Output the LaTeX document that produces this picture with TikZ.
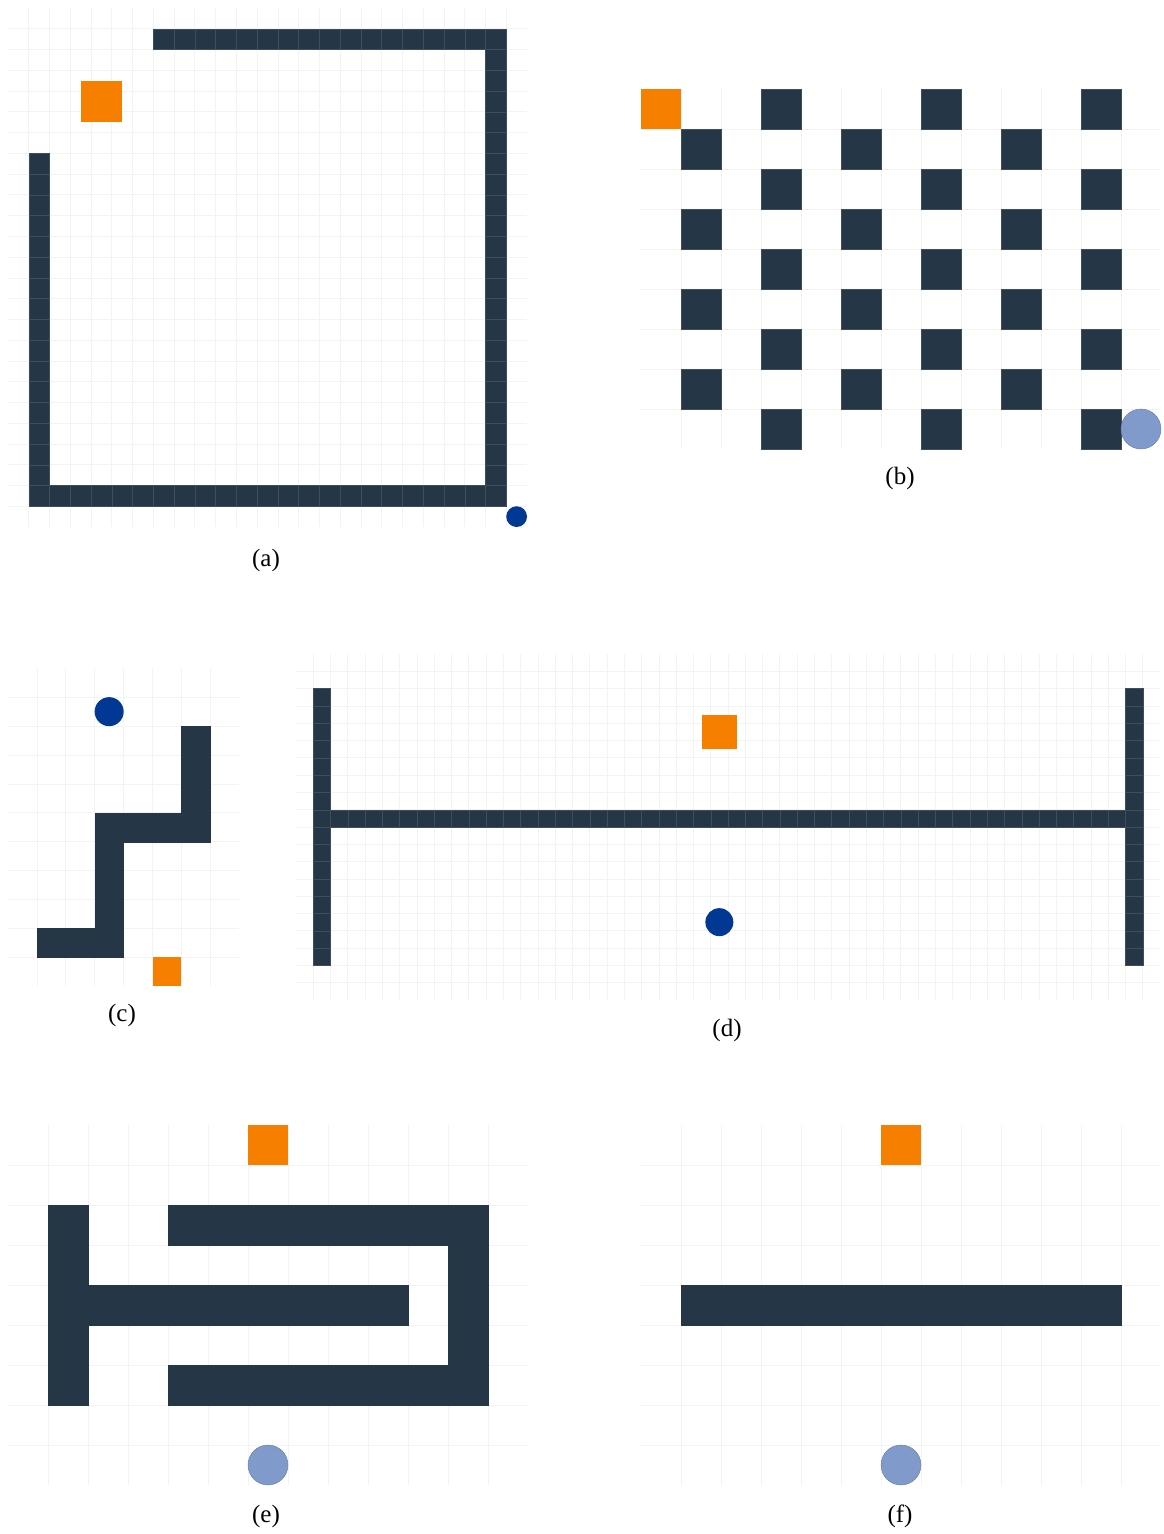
\documentclass[tikz,border=0pt]{standalone}
\usepackage{fontspec}
\setmainfont{Liberation Serif}
\usepackage{tikz}
\usetikzlibrary{positioning}

\definecolor{wallblue}{HTML}{253646}
\definecolor{gridgray}{HTML}{F3F3F3}
\definecolor{goalorange}{HTML}{F77F00}
\definecolor{agentblue}{HTML}{003893}
\definecolor{startblue}{HTML}{7F9ACB}

\tikzset{
  gridline/.style={draw=gridgray, line width=0.7pt},
  wall/.style={fill=wallblue, draw=wallblue!88!white, line width=0.4pt},
  solidwall/.style={fill=wallblue, draw=wallblue, line width=0.3pt},
  goal/.style={fill=goalorange},
  agent/.style={fill=agentblue},
  start/.style={fill=startblue, draw=startblue!80!black, line width=0.4pt},
  caption/.style={anchor=base, inner sep=0pt, font=\fontsize{25}{30}\selectfont},
}

\begin{document}
\begin{tikzpicture}[x=1pt, y=-1pt]
        \useasboundingbox (0,0) rectangle (1163,1534);

        % (a)
        \begin{scope}[shift={(8,8)}, x=20.76pt, y=-20.76pt]
            \foreach \x in {1,...,24} {
                \draw[gridline] (\x,0) -- (\x,25);
                \draw[gridline] (0,\x) -- (25,\x);
            }
            \foreach \c in {7,...,23} \draw[wall] (\c,1) rectangle ++(1,1);
            \foreach \r in {2,...,23} \draw[wall] (23,\r) rectangle ++(1,1);
            \foreach \c in {1,...,22} \draw[wall] (\c,23) rectangle ++(1,1);
            \foreach \r in {7,...,22} \draw[wall] (1,\r) rectangle ++(1,1);
            \fill[goal] (3.5,3.5) rectangle ++(2,2);
            \fill[agent] (24.5,24.5) circle[radius=10.4pt];
        \end{scope}
        \node[caption] (cap-a) at (266,566) {(a)};

        % (b)
        \begin{scope}[shift={(641,89)}, x=40pt, y=-40pt]
            \foreach \x in {1,...,12} \draw[gridline] (\x,0) -- (\x,9);
            \foreach \y in {1,...,8} \draw[gridline] (0,\y) -- (13,\y);
            \foreach \r in {0,2,4,6,8} {
                \foreach \c in {3,7,11} \draw[wall] (\c,\r) rectangle ++(1,1);
            }
            \foreach \r in {1,3,5,7} {
                \foreach \c in {1,5,9} \draw[wall] (\c,\r) rectangle ++(1,1);
            }
            \fill[goal] (0,0) rectangle ++(1,1);
            \draw[start] (12.5,8.5) circle[radius=20pt];
        \end{scope}
        \node[caption] (cap-b) at (900,484) {(b)};

        % (c)
        \begin{scope}[shift={(8,668.3)}, x=28.9pt, y=-28.9pt]
            \foreach \x in {1,...,7} \draw[gridline] (\x,0) -- (\x,11);
            \foreach \y in {1,...,10} \draw[gridline] (0,\y) -- (8,\y);
            \foreach \c/\r in {1/9,2/9,3/9,3/8,3/7,3/6,3/5,4/5,5/5,6/5,6/4,6/3,6/2}
                \draw[solidwall] (\c,\r) rectangle ++(1,1);
            \fill[goal] (5,10) rectangle ++(1,1);
            \fill[agent] (3.5,1.5) circle[radius=14.5pt];
        \end{scope}
        \node[caption] (cap-c) at (122,1021) {(c)};

        % (d)
        \begin{scope}[shift={(296,654)}, x=17.28pt, y=-17.3pt]
            \foreach \x in {1,...,49} \draw[gridline] (\x,0) -- (\x,20);
            \foreach \y in {1,...,19} \draw[gridline] (0,\y) -- (50,\y);
            \foreach \r in {2,...,17} {
                \draw[wall] (1,\r) rectangle ++(1,1);
                \draw[wall] (48,\r) rectangle ++(1,1);
            }
            \foreach \c in {2,...,47} \draw[wall] (\c,9) rectangle ++(1,1);
            \fill[goal] (23.5,3.5) rectangle ++(2,2);
            \fill[agent] (24.5,15.5) circle[radius=14pt];
        \end{scope}
        \node[caption] (cap-d) at (727,1036) {(d)};

        % (e)
        \begin{scope}[shift={(8,1125)}, x=40pt, y=-40pt]
            \foreach \x in {1,...,12} \draw[gridline] (\x,0) -- (\x,9);
            \foreach \y in {1,...,8} \draw[gridline] (0,\y) -- (13,\y);
            \foreach \r in {2,...,6} \draw[solidwall] (1,\r) rectangle ++(1,1);
            \foreach \c in {2,...,9} \draw[solidwall] (\c,4) rectangle ++(1,1);
            \foreach \c in {4,...,11} {
                \draw[solidwall] (\c,2) rectangle ++(1,1);
                \draw[solidwall] (\c,6) rectangle ++(1,1);
            }
            \foreach \r in {3,4,5} \draw[solidwall] (11,\r) rectangle ++(1,1);
            \fill[goal] (6,0) rectangle ++(1,1);
            \draw[start] (6.5,8.5) circle[radius=20pt];
        \end{scope}
        \node[caption] (cap-e) at (266,1522) {(e)};

        % (f)
        \begin{scope}[shift={(641,1125)}, x=40pt, y=-40pt]
            \foreach \x in {1,...,12} \draw[gridline] (\x,0) -- (\x,9);
            \foreach \y in {1,...,8} \draw[gridline] (0,\y) -- (13,\y);
            \foreach \c in {1,...,11} \draw[solidwall] (\c,4) rectangle ++(1,1);
            \fill[goal] (6,0) rectangle ++(1,1);
            \draw[start] (6.5,8.5) circle[radius=20pt];
        \end{scope}
        \node[caption] (cap-f) at (900,1522) {(f)};
\end{tikzpicture}
\end{document}
